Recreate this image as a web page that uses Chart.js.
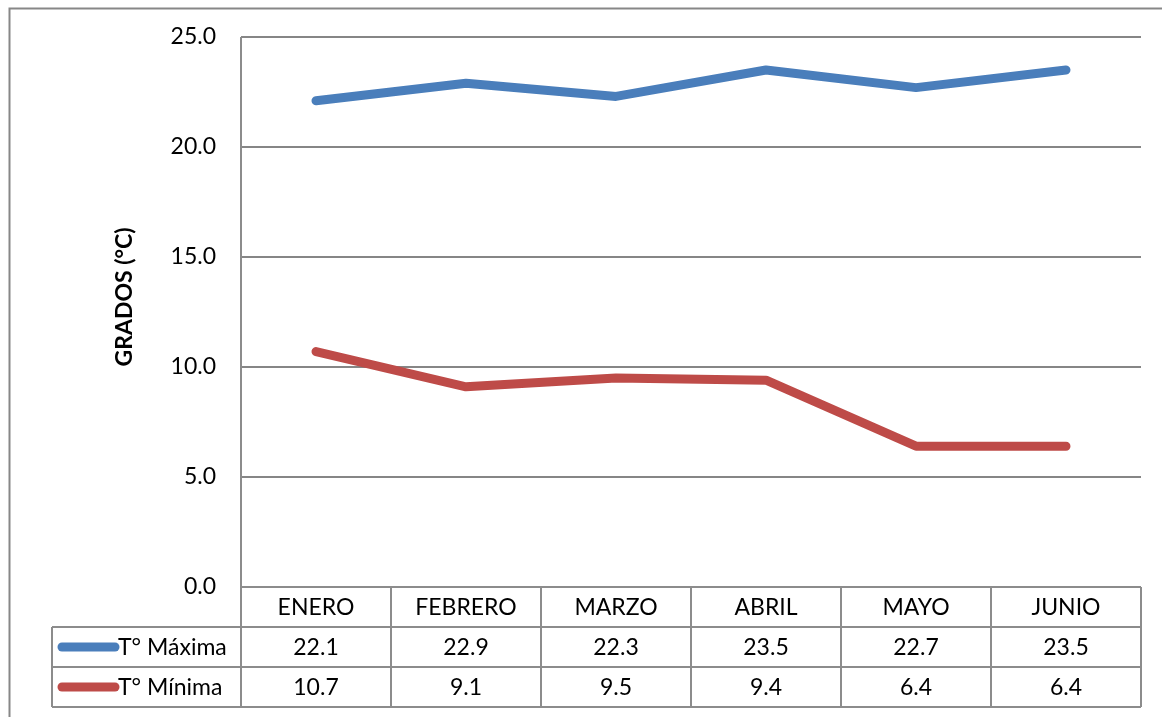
<!DOCTYPE html>
<html><head><meta charset="utf-8">
<script src="https://cdn.jsdelivr.net/npm/chart.js@4/dist/chart.umd.min.js"></script>
<style>html,body{margin:0;padding:0;background:#fff}#wrap{width:1162px;height:717px}</style>
</head><body><div id="wrap"><canvas id="c" width="1162" height="717"></canvas></div>
<script>
const categories = ['ENERO','FEBRERO','MARZO','ABRIL','MAYO','JUNIO'];
const seriesNames = ['T° Máxima','T° Mínima'];
const maxValues = [22.1, 22.9, 22.3, 23.5, 22.7, 23.5];
const minValues = [10.7, 9.1, 9.5, 9.4, 6.4, 6.4];
const seriesColors = ['#4A7EBB', '#BE4B48'];
const yTicks = [0, 5, 10, 15, 20, 25];
const yTitle = 'GRADOS (°C)';
const FONT = 'Lato, "Open Sans", "Liberation Sans", sans-serif';
const FS = 23;

const tablePlugin = {
  id: 'dataTable',
  afterDraw(chart) {
    const ctx = chart.ctx, x = chart.scales.x, a = chart.chartArea;
    const rowH = 40, legendLeft = 52;
    const series = [maxValues, minValues];
    ctx.save();
    ctx.strokeStyle = '#878787'; ctx.lineWidth = 2;
    ctx.strokeRect(9.5, 8.5, 1170, 720);
    ctx.strokeStyle = '#8c8c8c'; ctx.lineWidth = 2;
    ctx.beginPath(); ctx.moveTo(a.left, a.top); ctx.lineTo(a.left, a.bottom + 3*rowH); ctx.stroke();
    for (let r = 0; r <= 3; r++) {
      const y = a.bottom + r*rowH;
      ctx.beginPath(); ctx.moveTo(r === 0 ? a.left : legendLeft, y); ctx.lineTo(a.right, y); ctx.stroke();
    }
    ctx.beginPath(); ctx.moveTo(legendLeft, a.bottom + rowH); ctx.lineTo(legendLeft, a.bottom + 3*rowH); ctx.stroke();
    const colW = (a.right - a.left) / categories.length;
    for (let i = 1; i <= categories.length; i++) {
      const xx = a.left + i*colW;
      ctx.beginPath(); ctx.moveTo(xx, a.bottom); ctx.lineTo(xx, a.bottom + 3*rowH); ctx.stroke();
    }
    ctx.fillStyle = '#000'; ctx.font = FS + 'px ' + FONT;
    ctx.textAlign = 'center'; ctx.textBaseline = 'middle';
    categories.forEach((c, i) => ctx.fillText(c, x.getPixelForValue(i), a.bottom + rowH/2 + 1));
    series.forEach((vals, s) => {
      const yc = a.bottom + rowH*(s+1) + rowH/2 + 1;
      vals.forEach((v, i) => ctx.fillText(v.toFixed(1), x.getPixelForValue(i), yc));
      ctx.strokeStyle = seriesColors[s]; ctx.lineWidth = 9; ctx.lineCap = 'round';
      ctx.beginPath(); ctx.moveTo(62, yc - 1); ctx.lineTo(115, yc - 1); ctx.stroke();
      ctx.textAlign = 'left';
      ctx.fillText(seriesNames[s], 118, yc);
      ctx.textAlign = 'center';
    });
    ctx.translate(125, 297);
    ctx.rotate(-Math.PI/2);
    ctx.font = 'bold ' + FS + 'px ' + FONT;
    ctx.fillText(yTitle, 0, 0);
    ctx.restore();
  }
};

new Chart(document.getElementById('c'), {
  type: 'line',
  data: {
    labels: categories,
    datasets: [
      { label: seriesNames[0], data: maxValues, borderColor: seriesColors[0], backgroundColor: seriesColors[0], borderWidth: 9, pointRadius: 0, borderCapStyle: 'round', borderJoinStyle: 'round', tension: 0 },
      { label: seriesNames[1], data: minValues, borderColor: seriesColors[1], backgroundColor: seriesColors[1], borderWidth: 9, pointRadius: 0, borderCapStyle: 'round', borderJoinStyle: 'round', tension: 0 }
    ]
  },
  options: {
    responsive: false, animation: false, devicePixelRatio: 1,
    layout: { padding: { top: 37, right: 21, left: 0, bottom: 0 } },
    plugins: { legend: { display: false }, tooltip: { enabled: false } },
    scales: {
      x: {
        offset: true,
        grid: { display: false, drawTicks: false },
        border: { display: false },
        ticks: { display: false },
        afterFit(s) { s.height = 130; s.paddingLeft = 0; s.paddingRight = 0; }
      },
      y: {
        min: 0, max: 25,
        afterBuildTicks(s) { s.ticks = yTicks.map(v => ({ value: v })); },
        grid: { color: '#868686', lineWidth: 2, drawTicks: false },
        border: { display: false },
        ticks: { padding: 25, color: '#000', font: { family: FONT, size: FS }, callback: v => Number(v).toFixed(1) },
        afterFit(s) { s.width = 241; s.paddingTop = 0; s.paddingBottom = 0; }
      }
    }
  },
  plugins: [tablePlugin]
});
</script>
</body></html>
